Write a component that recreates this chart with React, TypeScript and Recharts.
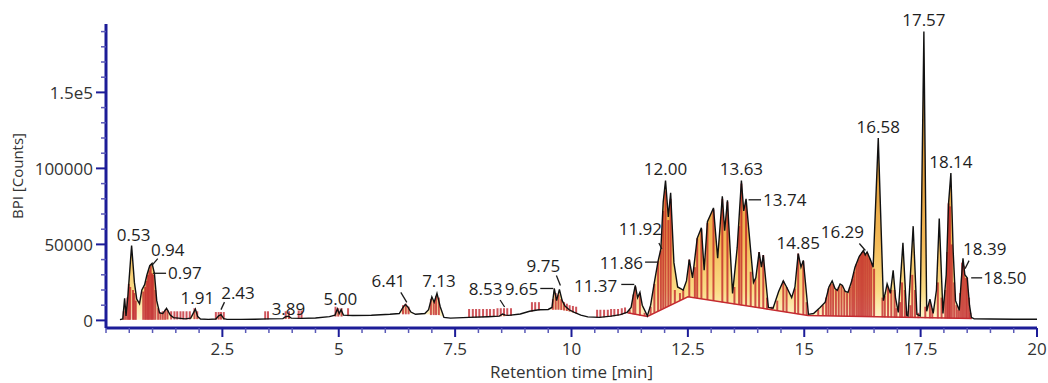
import { ComposedChart, Area, Line, Scatter, ErrorBar, XAxis, YAxis } from "recharts";

// BPI trace, rows are [retention time (min), intensity, lower edge of the integrated fill]
const traceEarly: [number, number, number][] = [
  [0.3, 500, 500], [0.36, 900, 400], [0.4, 14500, 400], [0.43, 3000, 400], [0.47, 16000, 400],
  [0.55, 49300, 400], [0.61, 25000, 400], [0.66, 14000, 400], [0.72, 11000, 400], [0.77, 20000, 400],
  [0.83, 23500, 400], [0.88, 30000, 400], [0.94, 36000, 400], [0.99, 37500, 400], [1.04, 31000, 400],
  [1.09, 13000, 400], [1.15, 5000, 400], [1.22, 4500, 400], [1.3, 8000, 400], [1.38, 3500, 400],
  [1.45, 1800, 1800], [1.55, 1500, 1500], [1.7, 1000, 1000], [1.82, 1500, 1000], [1.87, 4500, 1000],
  [1.92, 7500, 1000], [1.97, 2500, 1000], [2.03, 900, 900], [2.2, 700, 700], [2.36, 900, 700],
  [2.42, 3000, 700], [2.47, 3800, 700], [2.53, 1200, 700], [2.6, 700, 700], [2.9, 700, 700],
  [3.2, 800, 800], [3.5, 1000, 1000], [3.8, 1200, 1200], [3.86, 2400, 1200], [3.92, 2800, 1200],
  [3.98, 1500, 1200], [4.2, 1300, 1300], [4.5, 1600, 1600], [4.8, 2500, 2500], [4.92, 3500, 3000],
  [4.97, 7500, 3000], [5.01, 4500, 3000], [5.05, 7000, 3000], [5.1, 3500, 3000], [5.3, 3200, 3200],
];

const traceMiddle: [number, number, number][] = [
  [5.7, 3400, 3400], [6.1, 4000, 4000], [6.3, 4500, 4500], [6.38, 8500, 4500], [6.43, 10500, 4500],
  [6.48, 9000, 4500], [6.55, 5500, 4500], [6.65, 4000, 4000], [6.85, 4500, 4000], [6.93, 7000, 4000],
  [7.0, 15500, 4000], [7.05, 12000, 4000], [7.11, 17800, 4000], [7.18, 9000, 3000], [7.26, 2000, 2000],
  [7.4, 1500, 1500], [7.8, 2000, 2000], [8.2, 2400, 2400], [8.45, 2800, 2800], [8.52, 4200, 2800],
  [8.58, 3500, 2800], [8.65, 3300, 3300], [8.9, 4200, 4200], [9.1, 6000, 6000], [9.3, 7000, 7000],
  [9.5, 7200, 7200], [9.58, 8500, 7200], [9.63, 21000, 7200], [9.68, 13000, 7200], [9.74, 20400, 7200],
  [9.8, 13000, 7000], [9.86, 9500, 6500], [9.95, 7000, 6000], [10.05, 5500, 5000], [10.2, 3500, 3500],
  [10.35, 2300, 2300], [10.6, 2000, 2000], [10.85, 2800, 2800], [11.05, 3800, 3800],
];

const traceDense: [number, number, number][] = [
  [11.2, 5500, 5000], [11.28, 8500, 4400], [11.33, 17000, 4000], [11.37, 23000, 3800], [11.42, 15000, 3500],
  [11.47, 18400, 3200], [11.52, 10000, 3000], [11.63, 3000, 2600], [11.7, 10000, 3700], [11.78, 25000, 5000],
  [11.86, 39000, 6200], [11.92, 47000, 7100], [11.97, 78000, 7800], [12.02, 92000, 8500], [12.08, 68000, 9400],
  [12.13, 84000, 10200], [12.2, 38000, 11200], [12.28, 22000, 12400], [12.4, 20000, 14000], [12.47, 26000, 15000],
  [12.53, 40000, 15400], [12.6, 28000, 15000], [12.7, 54000, 14500], [12.79, 61000, 14100], [12.85, 33000, 13800],
  [12.92, 65000, 13400], [13.05, 74000, 12800], [13.14, 41000, 12400], [13.24, 81600, 11900], [13.29, 59000, 11700],
  [13.35, 79000, 11400], [13.46, 17800, 10800], [13.56, 48000, 10400], [13.65, 92000, 9900], [13.7, 72000, 9700],
  [13.75, 80000, 9500], [13.91, 25000, 8700], [13.96, 28000, 8500], [14.03, 45000, 8100], [14.08, 35000, 7900],
  [14.12, 43000, 7700], [14.23, 8500, 7200], [14.33, 8000, 6700], [14.45, 19000, 6100], [14.55, 26000, 5600],
  [14.62, 22000, 5300], [14.73, 15000, 4800], [14.8, 22000, 4400], [14.87, 44000, 4100], [14.93, 35000, 3800],
  [14.98, 39500, 3600], [15.09, 4000, 3300],
];

const traceLate: [number, number, number][] = [
  [15.2, 4500, 3200], [15.34, 8500, 3100], [15.45, 12000, 3000], [15.53, 22000, 2950], [15.6, 26000, 2900],
  [15.66, 21000, 2850], [15.71, 19700, 2800], [15.77, 24000, 2750], [15.82, 23000, 2700], [15.88, 19000, 2650],
  [15.94, 18400, 2600], [16.02, 26000, 2550], [16.09, 35000, 2500], [16.18, 42000, 2450], [16.27, 46000, 2400],
  [16.31, 43000, 2350], [16.35, 45000, 2300], [16.42, 40000, 2250], [16.48, 35000, 2200], [16.59, 120000, 2150],
  [16.7, 13000, 2050], [16.74, 18000, 2000], [16.78, 24000, 2000], [16.85, 17800, 1950], [16.91, 33000, 1900],
  [16.96, 15000, 1850], [17.02, 5300, 1800], [17.12, 51000, 1750], [17.2, 3500, 1700], [17.23, 3000, 1650],
  [17.34, 62000, 1600], [17.42, 4000, 1550], [17.49, 3000, 1500], [17.57, 190000, 1500], [17.63, 6000, 1450],
  [17.7, 14000, 1400], [17.77, 4600, 1400], [17.84, 20000, 1400], [17.9, 67000, 1350], [17.98, 4600, 1350],
  [18.05, 30000, 1300], [18.1, 77000, 1300], [18.15, 97000, 1300], [18.2, 45000, 1300], [18.25, 13000, 1300],
  [18.33, 6600, 1300], [18.37, 25000, 1300], [18.41, 40800, 1300], [18.45, 30000, 1300], [18.5, 28000, 1300],
  [18.55, 10000, 1300], [18.59, 2000, 1300], [18.65, 1000, 1000], [19.0, 900, 900], [19.5, 800, 800],
  [20.0, 800, 800],
];

// red integration baseline under the late peak cluster
const integrationBaseline: [number, number][] = [
  [11.2, 5000], [11.63, 2600], [12.5, 15500], [15.08, 3300], [18.6, 1300],
];

// red peak markers, rows are [time, bottom, top]
const peakMarksEarly: [number, number, number][] = [
  [0.38, 400, 6000], [0.42, 400, 9000], [0.46, 400, 15000], [0.49, 400, 24000], [0.52, 400, 22000],
  [0.58, 400, 20000], [0.61, 400, 18000], [0.64, 400, 13000], [0.8, 400, 19000], [0.84, 400, 22000],
  [0.87, 400, 26000], [0.9, 400, 30000], [0.93, 400, 33000], [0.96, 400, 36000], [0.99, 400, 31000],
  [1.02, 400, 30000], [1.06, 400, 20000], [1.12, 400, 8000], [1.17, 400, 5000], [1.22, 400, 6000],
  [1.27, 400, 7000], [1.32, 600, 7000], [1.4, 600, 6000], [1.47, 600, 6000], [1.53, 600, 6000],
  [1.6, 600, 6000], [1.66, 600, 6000], [1.73, 600, 6000], [1.8, 600, 6000], [1.9, 800, 8000],
  [1.96, 800, 6000], [2.36, 500, 5500], [2.42, 500, 5500], [2.47, 500, 5500], [2.53, 500, 5500],
  [3.42, 700, 6000], [3.48, 700, 6000], [3.86, 900, 6000], [3.93, 900, 6000], [4.14, 1000, 6500],
  [4.2, 1000, 6500], [4.93, 2500, 9000], [4.99, 2500, 8000], [5.06, 2500, 8000], [5.2, 2800, 8000],
  [6.38, 4000, 10000], [6.44, 4000, 11000], [6.5, 4000, 9000], [6.98, 3500, 14000], [7.04, 3500, 13000],
  [7.09, 3500, 16000], [7.15, 3500, 15000], [7.8, 1800, 7500], [7.88, 1800, 7500], [7.95, 1900, 7500],
  [8.02, 2000, 7500], [8.1, 2100, 7500], [8.18, 2200, 7500], [8.25, 2300, 7500], [8.33, 2400, 7500],
  [8.41, 2600, 8000], [8.48, 2700, 8000], [8.55, 2800, 8000], [8.62, 2900, 8000], [8.7, 3000, 8000],
  [9.15, 5800, 12000], [9.22, 6200, 12000], [9.3, 6600, 12000], [9.6, 7000, 14000], [9.66, 7000, 18000],
  [9.72, 7000, 17000], [9.78, 6800, 14000], [9.84, 6500, 12000], [9.9, 6200, 11000], [9.96, 5800, 10000],
  [10.03, 5200, 9500], [10.1, 4500, 9000], [10.55, 1800, 7000], [10.62, 1800, 7000], [10.7, 2000, 7000],
  [10.78, 2200, 7000], [10.85, 2400, 7500], [10.92, 2700, 7500], [11.0, 3000, 7500], [11.08, 3500, 8000],
  [11.15, 4500, 8500],
];

const peakMarksLate: [number, number, number][] = [
  [11.25, 4700, 7000], [11.33, 4000, 17000], [11.37, 3800, 22000], [11.47, 3200, 18000], [11.57, 2800, 5000],
  [11.7, 3700, 9000], [11.78, 5000, 24000], [11.86, 6200, 39000], [11.92, 7100, 46000], [11.97, 7800, 72000],
  [12.02, 8500, 85000], [12.08, 9400, 66000], [12.13, 10200, 80000], [12.22, 11500, 20000], [12.33, 13000, 18000],
  [12.4, 14000, 20000], [12.53, 15400, 40000], [12.65, 14800, 35000], [12.7, 14500, 54000], [12.79, 14100, 60000],
  [12.92, 13400, 64000], [13.05, 12800, 73000], [13.24, 11900, 80000], [13.35, 11400, 78000], [13.5, 10600, 22000],
  [13.6, 10200, 62000], [13.65, 9900, 90000], [13.75, 9500, 78000], [13.85, 9000, 32000], [13.95, 8500, 27000],
  [14.03, 8100, 45000], [14.12, 7700, 43000], [14.2, 7300, 15000], [14.3, 6800, 9000], [14.42, 6200, 13000],
  [14.55, 5600, 26000], [14.62, 5300, 22000], [14.8, 4400, 21000], [14.87, 4100, 44000], [14.98, 3600, 39000],
  [15.05, 3400, 12000],
  [15.3, 3100, 7000], [15.4, 3000, 10000], [15.47, 3000, 15000], [15.52, 2950, 21000], [15.57, 2900, 24000],
  [15.62, 2900, 24000], [15.68, 2850, 20000], [15.74, 2800, 22000], [15.8, 2700, 23000], [15.86, 2650, 20000],
  [15.92, 2600, 18000], [15.98, 2550, 22000], [16.03, 2550, 27000], [16.07, 2500, 32000], [16.12, 2500, 37000],
  [16.16, 2450, 40000], [16.2, 2450, 43000], [16.24, 2400, 45000], [16.28, 2400, 45000], [16.32, 2350, 43000],
  [16.36, 2300, 44000], [16.4, 2250, 41000], [16.44, 2250, 38000], [16.5, 2200, 34000], [16.68, 2050, 15000],
  [16.73, 2000, 16000], [16.8, 2000, 22000], [16.87, 1950, 20000], [16.94, 1900, 20000], [16.98, 1850, 8000],
  [17.06, 1800, 12000], [17.1, 1750, 25000], [17.16, 1700, 20000], [17.2, 1700, 6000], [17.28, 1600, 10000],
  [17.32, 1600, 30000], [17.38, 1550, 20000], [17.45, 1500, 5000], [17.6, 1450, 9000], [17.7, 1400, 12000],
  [17.75, 1400, 8000], [17.87, 1350, 25000], [17.95, 1350, 15000], [18.03, 1300, 20000], [18.07, 1300, 45000],
  [18.1, 1300, 77000], [18.13, 1300, 75000], [18.17, 1300, 50000], [18.22, 1300, 25000], [18.27, 1300, 10000],
  [18.31, 1300, 7000], [18.35, 1300, 18000], [18.39, 1300, 38000], [18.43, 1300, 36000], [18.47, 1300, 28000],
  [18.5, 1300, 28000], [18.54, 1300, 15000], [18.57, 1300, 5000],
];

// peak annotations: [text, time, intensity]
const peakLabels: [string, number, number][] = [
  ["0.53", 0.55, 49300], ["0.94", 0.94, 36000], ["0.97", 0.99, 31000], ["1.91", 1.92, 7500],
  ["2.43", 2.47, 3800], ["3.89", 3.92, 2800], ["5.00", 4.97, 7500], ["6.41", 6.43, 10500],
  ["7.13", 7.11, 17800], ["8.53", 8.52, 4200], ["9.65", 9.63, 21000], ["9.75", 9.74, 20400],
  ["11.37", 11.37, 23000], ["11.86", 11.86, 39000], ["11.92", 11.92, 47000], ["12.00", 12.02, 92000],
  ["13.63", 13.65, 92000], ["13.74", 13.75, 80000], ["14.85", 14.87, 44000], ["16.29", 16.27, 46000],
  ["16.58", 16.59, 120000], ["17.57", 17.57, 190000], ["18.14", 18.15, 97000], ["18.39", 18.39, 38000],
  ["18.50", 18.5, 28000],
];

const yTicks = Array.from({ length: 20 }, (_, i) => i * 10000);
const yMajor = [0, 50000, 100000, 150000];
const yMajorText = ["0", "50000", "100000", "1.5e5"];
const xTicks = Array.from({ length: 41 }, (_, i) => i * 0.5);
const xMajor = [2.5, 5, 7.5, 10, 12.5, 15, 17.5, 20];
const xMajorText = ["2.5", "5", "7.5", "10", "12.5", "15", "17.5", "20"];

// where each annotation sits relative to its peak (px)
type Place = { dx: number; dy: number; anchor: "middle" | "start" | "end"; lead?: number[] };
const labelPlace: Record<string, Place> = {
  "0.53": { dx: 2, dy: -11, anchor: "middle" },
  "0.94": { dx: 18, dy: -16, anchor: "middle", lead: [8, -7, 2, 0] },
  "0.97": { dx: 16, dy: 0, anchor: "start", lead: [1, 0, 14, 0] },
  "1.91": { dx: 2, dy: -11, anchor: "middle" },
  "2.43": { dx: 17, dy: -22, anchor: "middle", lead: [3.5, -12.5, 0, -5] },
  "3.89": { dx: 0, dy: -7, anchor: "middle" },
  "5.00": { dx: 3, dy: -10, anchor: "middle" },
  "6.41": { dx: -17, dy: -23.5, anchor: "middle", lead: [-4.5, -12, 1.5, -2] },
  "7.13": { dx: 2, dy: -12, anchor: "middle" },
  "8.53": { dx: -17, dy: -25.5, anchor: "middle", lead: [-2.5, -14, 2, -7] },
  "9.65": { dx: -16, dy: 0, anchor: "end", lead: [-14, 0, -1, 0] },
  "9.75": { dx: -16, dy: -24, anchor: "middle", lead: [-3, -14, 1, -4] },
  "11.37": { dx: -18, dy: 0, anchor: "end", lead: [-14, -1, -1, -1] },
  "11.86": { dx: -15, dy: 2, anchor: "end", lead: [-13, 1, -1, 1] },
  "11.92": { dx: -20.5, dy: -20.3, anchor: "middle", lead: [-2, -6, 1, 0] },
  "12.00": { dx: 0, dy: -12, anchor: "middle" },
  "13.63": { dx: 0, dy: -12, anchor: "middle" },
  "13.74": { dx: 17, dy: 1, anchor: "start", lead: [2.5, 1, 15, 1] },
  "14.85": { dx: 0, dy: -10.6, anchor: "middle" },
  "16.29": { dx: -21, dy: -19, anchor: "middle", lead: [-4, -7, 2, 0] },
  "16.58": { dx: 0, dy: -11.6, anchor: "middle" },
  "17.57": { dx: 0, dy: -12, anchor: "middle" },
  "18.14": { dx: 0, dy: -11.5, anchor: "middle" },
  "18.39": { dx: 22.7, dy: -13.3, anchor: "middle", lead: [7, -2, 3, 6] },
  "18.50": { dx: 16, dy: 0, anchor: "start", lead: [4, 0, 15, 0] },
};

const AXIS = "#1c1c98";
const MINOR = "#5a5ab8";
const FONT = "'Open Sans', sans-serif";

const trace = [...traceEarly, ...traceMiddle, ...traceDense, ...traceLate].map(([t, v, b]) => ({ t, v, b }));
const baseRows = integrationBaseline.map(([t, v]) => ({ t, v }));
const markRows = [...peakMarksEarly, ...peakMarksLate].map(([t, lo, hi]) => ({ t, top: hi, span: [hi - lo, 0] }));
const labelRows = peakLabels.map(([name, t, v]) => ({ name, t, v }));

function YTick({ x, y, payload }: any) {
  const i = yMajor.indexOf(payload.value);
  return (
    <g>
      <line x1={x - (i >= 0 ? 10 : 5)} x2={x} y1={y} y2={y} stroke={i >= 0 ? AXIS : MINOR} strokeWidth={i >= 0 ? 2 : 1.5} />
      {i >= 0 && (
        <text x={x - 13} y={y} dy="0.36em" textAnchor="end" fontSize={17} fontFamily={FONT} fill="#333">
          {yMajorText[i]}
        </text>
      )}
    </g>
  );
}

function XTick({ x, y, payload }: any) {
  const i = xMajor.indexOf(payload.value);
  return (
    <g>
      <line x1={x} x2={x} y1={y} y2={y + (i >= 0 ? 9 : 5)} stroke={i >= 0 ? AXIS : MINOR} strokeWidth={i >= 0 ? 2 : 1.5} />
      {i >= 0 && (
        <text x={x} y={y + 27} textAnchor="middle" fontSize={17} fontFamily={FONT} fill="#333">
          {xMajorText[i]}
        </text>
      )}
    </g>
  );
}

function PeakLabel(props: any) {
  const { cx, cy, payload } = props;
  const p = labelPlace[payload.name];
  if (!p) return <g />;
  return (
    <g>
      {p.lead && (
        <line x1={cx + p.lead[0]} y1={cy + p.lead[1]} x2={cx + p.lead[2]} y2={cy + p.lead[3]} stroke="#1a1a1a" strokeWidth={1.3} />
      )}
      <text x={cx + p.dx} y={cy + p.dy} dy="0.36em" textAnchor={p.anchor} fontSize={17} fontFamily={FONT} fill="#1e1e1e">
        {payload.name}
      </text>
    </g>
  );
}

export default function App() {
  return (
    <div style={{ position: "absolute", left: 0, top: 0, width: 1048, height: 383, background: "#fff", fontFamily: FONT }}>
      <ComposedChart width={1048} height={383} margin={{ top: 24, right: 11, bottom: 0, left: 0 }}>
        <defs>
          <linearGradient id="bpiFill" x1="0" y1="0" x2="0" y2="1">
            <stop offset="0%" stopColor="#7a5a22" />
            <stop offset="45%" stopColor="#e09a38" />
            <stop offset="72%" stopColor="#f3b855" />
            <stop offset="90%" stopColor="#fbdc86" />
            <stop offset="100%" stopColor="#fff6cf" />
          </linearGradient>
        </defs>
        <XAxis
          dataKey="t"
          type="number"
          domain={[0, 20]}
          ticks={xTicks}
          interval={0}
          tickSize={0}
          tickMargin={0}
          tick={<XTick />}
          axisLine={{ stroke: AXIS, strokeWidth: 3 }}
          height={55}
          label={{ value: "Retention time [min]", position: "insideBottom", offset: 5, fontSize: 17, fill: "#333", fontFamily: FONT }}
        />
        <YAxis
          type="number"
          domain={[-5000, 195000]}
          ticks={yTicks}
          interval={0}
          tickSize={0}
          tickMargin={0}
          tick={<YTick />}
          axisLine={{ stroke: AXIS, strokeWidth: 3 }}
          width={106}
          label={{
            content: () => (
              <text x={18} y={176} dy="0.36em" transform="rotate(-90, 18, 176)" textAnchor="middle" fontSize={15} fontFamily={FONT} fill="#333">
                BPI [Counts]
              </text>
            ),
          }}
        />
        <Area
          data={trace}
          dataKey={(d: any) => [d.b, d.v]}
          type="linear"
          stroke="none"
          fill="url(#bpiFill)"
          fillOpacity={1}
          isAnimationActive={false}
        />
        <Scatter data={markRows} dataKey="top" shape={() => <g />} isAnimationActive={false}>
          <ErrorBar dataKey="span" direction="y" width={0} stroke="rgba(190,28,36,0.75)" strokeWidth={2} />
        </Scatter>
        <Line data={baseRows} dataKey="v" type="linear" stroke="#c42a30" strokeWidth={1.5} dot={false} activeDot={false} isAnimationActive={false} />
        <Line data={trace} dataKey="v" type="linear" stroke="#111" strokeWidth={1.4} dot={false} activeDot={false} isAnimationActive={false} />
        <Scatter data={labelRows} dataKey="v" shape={PeakLabel} isAnimationActive={false} />
      </ComposedChart>
    </div>
  );
}
